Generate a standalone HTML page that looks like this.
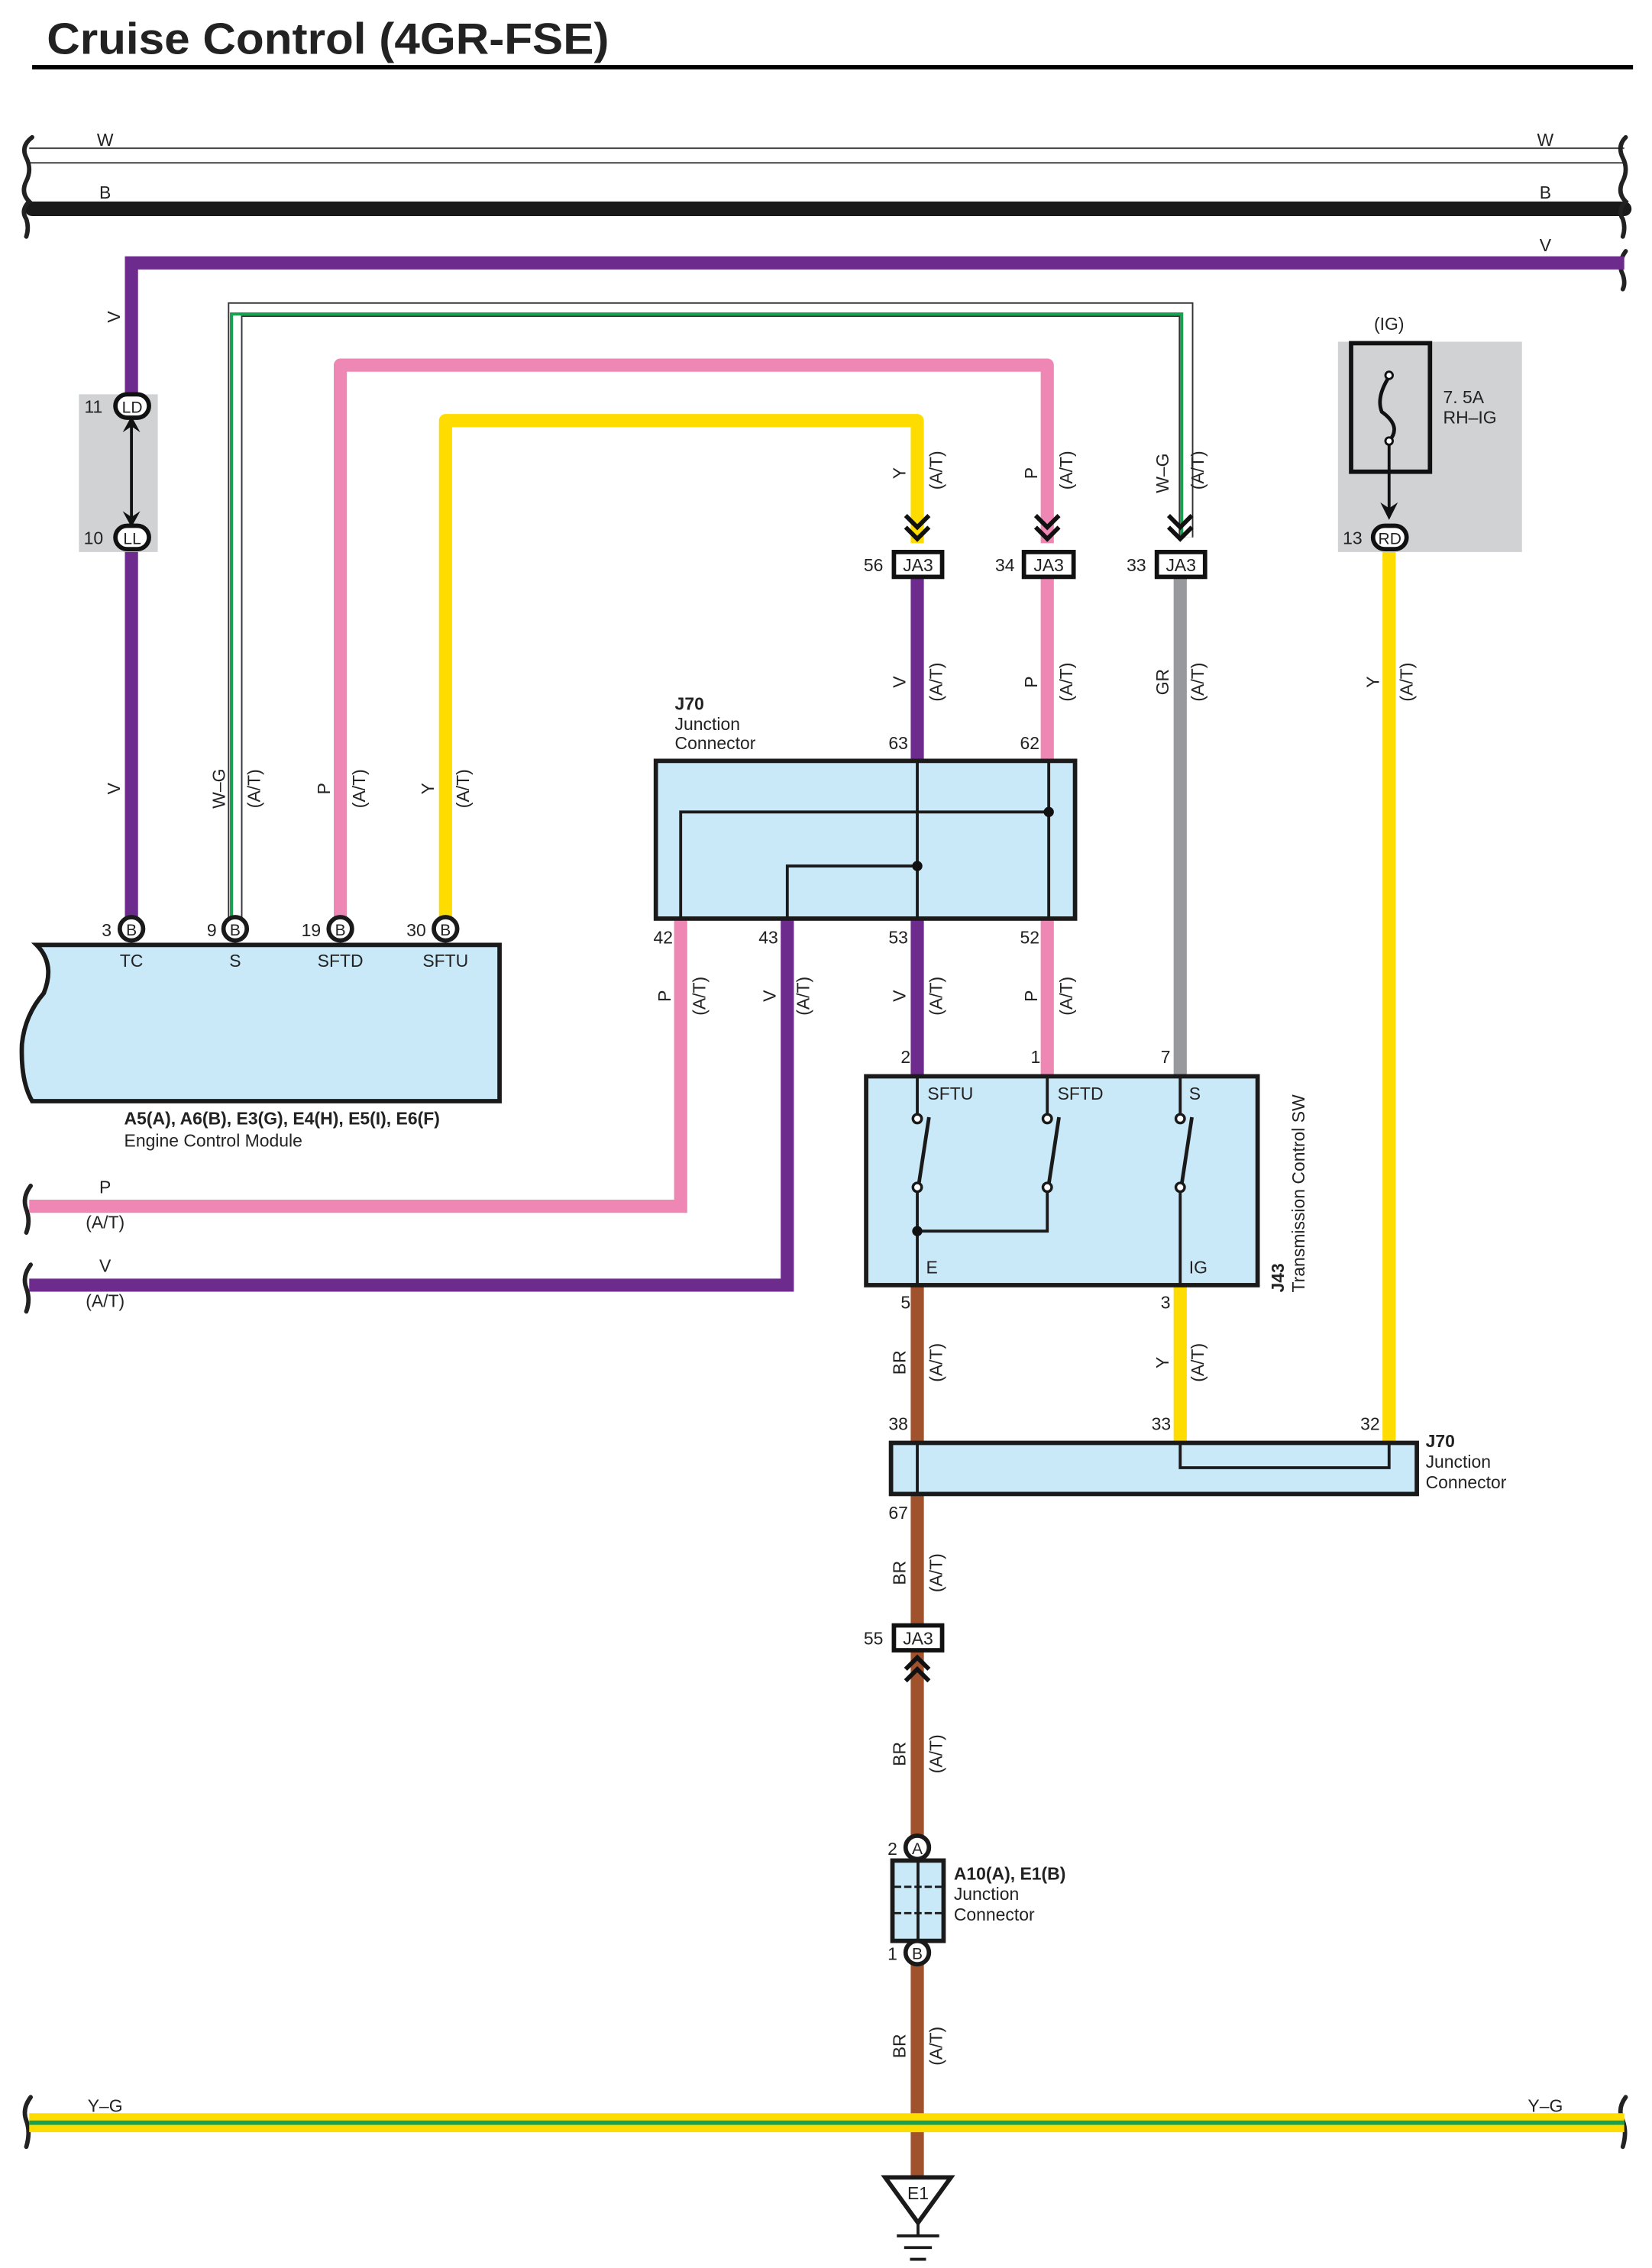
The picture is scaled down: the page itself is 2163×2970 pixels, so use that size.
<!DOCTYPE html>
<html><head><meta charset="utf-8"><style>
html,body{margin:0;padding:0;background:#fff}
svg{display:block}
text{font-family:"Liberation Sans",sans-serif;fill:#222}
</style></head><body>
<svg width="2163" height="2970" viewBox="0 0 1131 1553" preserveAspectRatio="none" xmlns="http://www.w3.org/2000/svg">
<rect width="1131" height="1553" fill="#fff"/>
<text x="32" y="37" font-size="30" font-weight="bold" fill="#000" textLength="385" lengthAdjust="spacingAndGlyphs">Cruise Control (4GR-FSE)</text>
<rect x="22" y="44.5" width="1096" height="3" fill="#000"/>

<line x1="20" y1="101.5" x2="1112" y2="101.5" stroke="#444" stroke-width="1"/>
<line x1="20" y1="111.5" x2="1112" y2="111.5" stroke="#444" stroke-width="1"/>
<line x1="22" y1="143" x2="1112" y2="143" stroke="#1a1a1a" stroke-width="10" stroke-linecap="round"/>
<g fill="none" stroke="#222" stroke-width="3" stroke-linecap="round">
<path d="M22,94 Q14,100 18,108 Q22,116 18,124 Q14,132 20,138 Q14,144 18,150 Q20,156 18,162"/>
<path d="M1113,94 Q1107,100 1111,108 Q1115,116 1111,124 Q1107,132 1113,138 Q1107,144 1111,150 Q1113,156 1111,162"/>
<path d="M1113,172 Q1107,180 1111,188 Q1113,194 1111,198"/>
<path d="M21,812 Q15,820 18,828 Q21,836 18,844"/>
<path d="M21,866 Q15,874 18,882 Q21,890 18,898"/>
<path d="M21,1436 Q15,1444 18,1452 Q21,1460 18,1470"/>
<path d="M1113,1436 Q1107,1444 1111,1452 Q1114,1460 1111,1470"/>
</g>

<path d="M90,637 L90,180 L1112,180" fill="none" stroke="#6d2b8e" stroke-width="9"/>
<path d="M161,630 L161,212 L812,212 L812,368" fill="none" stroke="#333" stroke-width="10"/>
<path d="M161,630 L161,212 L812,212 L812,368" fill="none" stroke="#fff" stroke-width="8"/>
<path d="M158.5,630 L158.5,215 L809,215 L809,368" fill="none" stroke="#1aa050" stroke-width="2.2"/>
<path d="M233,637 L233,250 L717,250 L717,372" fill="none" stroke="#ef87b5" stroke-width="9" stroke-linejoin="round"/>
<path d="M305,637 L305,288 L628,288 L628,372" fill="none" stroke="#ffdc00" stroke-width="9" stroke-linejoin="round"/>

<path d="M628,396 L628,521" stroke="#6d2b8e" stroke-width="9"/>
<path d="M717,396 L717,521" stroke="#ef87b5" stroke-width="9"/>
<path d="M808,396 L808,737" stroke="#97999c" stroke-width="9"/>
<path d="M951,378 L951,988" stroke="#ffdc00" stroke-width="9"/>
<path d="M466,629 L466,826 L20,826" fill="none" stroke="#ef87b5" stroke-width="9"/>
<path d="M539,629 L539,880 L20,880" fill="none" stroke="#6d2b8e" stroke-width="9"/>
<path d="M628,629 L628,737" stroke="#6d2b8e" stroke-width="9"/>
<path d="M717,629 L717,737" stroke="#ef87b5" stroke-width="9"/>
<path d="M628,880 L628,1493" stroke="#a0522d" stroke-width="9"/>
<path d="M808,880 L808,988" stroke="#ffdc00" stroke-width="9"/>

<rect x="20" y="1447" width="1092" height="13" fill="#ffdc00"/>
<rect x="20" y="1452" width="1092" height="3" fill="#1aa050"/>

<rect x="54" y="270" width="54" height="108" fill="#d1d2d4"/>
<line x1="90" y1="286" x2="90" y2="360" stroke="#111" stroke-width="2"/>
<path d="M84,296 L90,285 L96,296 L90,292Z M84,350 L90,361 L96,350 L90,354Z" fill="#111"/>
<rect x="79" y="270" width="23" height="16" rx="8" fill="#fff" stroke="#111" stroke-width="3"/>
<rect x="79" y="360" width="23" height="16" rx="8" fill="#fff" stroke="#111" stroke-width="3"/>
<text x="90.5" y="282.5" font-size="11" text-anchor="middle">LD</text>
<text x="90.5" y="372.5" font-size="11" text-anchor="middle">LL</text>
<text x="64" y="282.5" font-size="12" text-anchor="middle">11</text>
<text x="64" y="372.5" font-size="12" text-anchor="middle">10</text>

<rect x="916" y="234" width="126" height="144" fill="#d1d2d4"/>
<rect x="925" y="235" width="54" height="88" fill="none" stroke="#111" stroke-width="3"/>
<path d="M951,258 Q942,272 946,282 Q960,292 951,302" fill="none" stroke="#111" stroke-width="2.5"/>
<circle cx="951" cy="257" r="2.5" fill="#fff" stroke="#111" stroke-width="1.5"/>
<circle cx="951" cy="302" r="2.5" fill="#fff" stroke="#111" stroke-width="1.5"/>
<line x1="951" y1="305" x2="951" y2="350" stroke="#111" stroke-width="2"/>
<path d="M945,344 L951,356 L957,344 L951,348Z" fill="#111"/>
<rect x="940" y="360" width="23" height="16" rx="8" fill="#fff" stroke="#111" stroke-width="3"/>
<text x="951.5" y="372.5" font-size="11" text-anchor="middle">RD</text>
<text x="926" y="372.5" font-size="12" text-anchor="middle">13</text>
<text x="951" y="226" font-size="12" text-anchor="middle">(IG)</text>
<text x="988" y="276" font-size="12">7. 5A</text>
<text x="988" y="290" font-size="12">RH–IG</text>

<g fill="none" stroke="#111" stroke-width="3">
<path d="M620,353 L628,361 L636,353 M620,361 L628,369 L636,361"/>
<path d="M709,353 L717,361 L725,353 M709,361 L717,369 L725,361"/>
<path d="M800,353 L808,361 L816,353 M800,361 L808,369 L816,361"/>
<path d="M620,1143 L628,1135 L636,1143 M620,1151 L628,1143 L636,1151"/>
</g>
<g fill="#fff" stroke="#111" stroke-width="3">
<rect x="612" y="378" width="33" height="17"/>
<rect x="701" y="378" width="34" height="17"/>
<rect x="792" y="378" width="33" height="17"/>
<rect x="612" y="1113" width="33" height="17"/>
</g>
<g font-size="12" text-anchor="middle">
<text x="628.5" y="391">JA3</text><text x="718" y="391">JA3</text><text x="808.5" y="391">JA3</text><text x="628.5" y="1126">JA3</text>
<text x="598" y="391">56</text><text x="688" y="391">34</text><text x="778" y="391">33</text><text x="598" y="1126">55</text>
</g>

<rect x="449" y="521" width="287" height="108" fill="#c9e8f8" stroke="#1a1a1a" stroke-width="3"/>
<g fill="none" stroke="#1a1a1a" stroke-width="2">
<path d="M628,521 L628,629 M718,521 L718,629 M466,629 L466,556 L718,556 M539,629 L539,593 L628,593"/>
</g>
<circle cx="718" cy="556" r="3.5" fill="#111"/><circle cx="628" cy="593" r="3.5" fill="#111"/>
<text x="462" y="486" font-size="12" font-weight="bold">J70</text>
<text x="462" y="500" font-size="12">Junction</text>
<text x="462" y="513" font-size="12">Connector</text>
<g font-size="12" text-anchor="middle">
<text x="615" y="513">63</text><text x="705" y="513">62</text>
<text x="454" y="646">42</text><text x="526" y="646">43</text><text x="615" y="646">53</text><text x="705" y="646">52</text>
<text x="620" y="728">2</text><text x="709" y="728">1</text><text x="798" y="728">7</text>
<text x="620" y="896">5</text><text x="798" y="896">3</text>
<text x="615" y="979">38</text><text x="795" y="979">33</text><text x="938" y="979">32</text><text x="615" y="1040">67</text>
</g>

<rect x="593" y="737" width="268" height="143" fill="#c9e8f8" stroke="#1a1a1a" stroke-width="3"/>
<g fill="none" stroke="#1a1a1a" stroke-width="2">
<path d="M628,737 L628,763 M717,737 L717,763 M808,737 L808,763"/>
<path d="M628,816 L628,880 M717,816 L717,843 L628,843 M808,816 L808,880"/>
<path d="M636,765 L629,811 M725,765 L718,811 M816,765 L809,811" stroke-width="2.5"/>
</g>
<g fill="#fff" stroke="#1a1a1a" stroke-width="1.8">
<circle cx="628" cy="766" r="3"/><circle cx="717" cy="766" r="3"/><circle cx="808" cy="766" r="3"/>
<circle cx="628" cy="813" r="3"/><circle cx="717" cy="813" r="3"/><circle cx="808" cy="813" r="3"/>
</g>
<circle cx="628" cy="843" r="3.5" fill="#111"/>
<g font-size="12"><text x="635" y="753">SFTU</text><text x="724" y="753">SFTD</text><text x="814" y="753">S</text><text x="634" y="872">E</text><text x="814" y="872">IG</text></g>
<text transform="translate(879,885) rotate(-90)" font-size="12" font-weight="bold">J43</text>
<text transform="translate(893,885) rotate(-90)" font-size="12">Transmission Control SW</text>

<rect x="610" y="988" width="360" height="35" fill="#c9e8f8" stroke="#1a1a1a" stroke-width="3"/>
<path d="M628,988 L628,1023 M808,988 L808,1005 L951,1005 L951,988" fill="none" stroke="#1a1a1a" stroke-width="2"/>
<text x="976" y="991" font-size="12" font-weight="bold">J70</text>
<text x="976" y="1005" font-size="12">Junction</text>
<text x="976" y="1019" font-size="12">Connector</text>

<rect x="611" y="1274" width="35" height="55" fill="#c9e8f8" stroke="#1a1a1a" stroke-width="3"/>
<line x1="628.5" y1="1274" x2="628.5" y2="1329" stroke="#1a1a1a" stroke-width="2"/>
<line x1="612" y1="1292" x2="645" y2="1292" stroke="#1a1a1a" stroke-width="1.5" stroke-dasharray="5,2"/>
<line x1="612" y1="1310" x2="645" y2="1310" stroke="#1a1a1a" stroke-width="1.5" stroke-dasharray="5,2"/>
<circle cx="628" cy="1265" r="8" fill="#fff" stroke="#1a1a1a" stroke-width="3"/>
<circle cx="628" cy="1337" r="8" fill="#fff" stroke="#1a1a1a" stroke-width="3"/>
<text x="628" y="1269.5" font-size="11" text-anchor="middle">A</text>
<text x="628" y="1341.5" font-size="11" text-anchor="middle">B</text>
<text x="611" y="1270" font-size="12" text-anchor="middle">2</text>
<text x="611" y="1342" font-size="12" text-anchor="middle">1</text>
<text x="653" y="1287" font-size="12" font-weight="bold">A10(A), E1(B)</text>
<text x="653" y="1301" font-size="12">Junction</text>
<text x="653" y="1315" font-size="12">Connector</text>

<path d="M606,1491 L651,1491 L628.5,1522 Z" fill="#fff" stroke="#1a1a1a" stroke-width="3"/>
<text x="628.5" y="1506" font-size="12" text-anchor="middle">E1</text>
<g stroke="#1a1a1a" stroke-width="2">
<line x1="628.5" y1="1522" x2="628.5" y2="1531"/>
<line x1="614" y1="1531" x2="643" y2="1531"/>
<line x1="619" y1="1539" x2="638" y2="1539"/>
<line x1="623" y1="1547" x2="634" y2="1547"/>
</g>

<path d="M25,647 L342,647 L342,754 L22,754 Q14,740 15,715 Q17,695 30,680 Q38,660 25,647 Z" fill="#c9e8f8" stroke="#1a1a1a" stroke-width="3"/>
<g fill="#fff" stroke="#1a1a1a" stroke-width="3">
<circle cx="90" cy="636" r="8"/><circle cx="161" cy="636" r="8"/><circle cx="233" cy="636" r="8"/><circle cx="305" cy="636" r="8"/>
</g>
<g font-size="11" text-anchor="middle">
<text x="90" y="640.5">B</text><text x="161" y="640.5">B</text><text x="233" y="640.5">B</text><text x="305" y="640.5">B</text>
</g>
<g font-size="12" text-anchor="middle">
<text x="73" y="641">3</text><text x="145" y="641">9</text><text x="213" y="641">19</text><text x="285" y="641">30</text>
<text x="90" y="662">TC</text><text x="161" y="662">S</text><text x="233" y="662">SFTD</text><text x="305" y="662">SFTU</text>
</g>
<text x="85" y="770" font-size="12" font-weight="bold">A5(A), A6(B), E3(G), E4(H), E5(I), E6(F)</text>
<text x="85" y="785" font-size="12">Engine Control Module</text>

<g font-size="12" text-anchor="middle">
<text x="72" y="100">W</text><text x="1058" y="100">W</text>
<text x="72" y="136">B</text><text x="1058" y="136">B</text>
<text x="1058" y="172">V</text>
<text x="72" y="817">P</text><text x="72" y="841">(A/T)</text>
<text x="72" y="871">V</text><text x="72" y="895">(A/T)</text>
<text x="72" y="1446">Y–G</text><text x="1058" y="1446">Y–G</text>
</g>

<g font-size="12" text-anchor="middle">
<text transform="translate(82,217) rotate(-90)">V</text>
<text transform="translate(82,540) rotate(-90)">V</text>
<text transform="translate(154,540) rotate(-90)">W–G</text><text transform="translate(178,540) rotate(-90)">(A/T)</text>
<text transform="translate(226,540) rotate(-90)">P</text><text transform="translate(250,540) rotate(-90)">(A/T)</text>
<text transform="translate(297,540) rotate(-90)">Y</text><text transform="translate(321,540) rotate(-90)">(A/T)</text>

<text transform="translate(620,324) rotate(-90)">Y</text><text transform="translate(645,322) rotate(-90)">(A/T)</text>
<text transform="translate(710,324) rotate(-90)">P</text><text transform="translate(734,322) rotate(-90)">(A/T)</text>
<text transform="translate(800,324) rotate(-90)">W–G</text><text transform="translate(824,322) rotate(-90)">(A/T)</text>

<text transform="translate(620,467) rotate(-90)">V</text><text transform="translate(645,467) rotate(-90)">(A/T)</text>
<text transform="translate(710,467) rotate(-90)">P</text><text transform="translate(734,467) rotate(-90)">(A/T)</text>
<text transform="translate(800,467) rotate(-90)">GR</text><text transform="translate(824,467) rotate(-90)">(A/T)</text>
<text transform="translate(944,467) rotate(-90)">Y</text><text transform="translate(967,467) rotate(-90)">(A/T)</text>

<text transform="translate(459,682) rotate(-90)">P</text><text transform="translate(483,682) rotate(-90)">(A/T)</text>
<text transform="translate(531,682) rotate(-90)">V</text><text transform="translate(554,682) rotate(-90)">(A/T)</text>
<text transform="translate(620,682) rotate(-90)">V</text><text transform="translate(645,682) rotate(-90)">(A/T)</text>
<text transform="translate(710,682) rotate(-90)">P</text><text transform="translate(734,682) rotate(-90)">(A/T)</text>

<text transform="translate(620,933) rotate(-90)">BR</text><text transform="translate(645,933) rotate(-90)">(A/T)</text>
<text transform="translate(800,933) rotate(-90)">Y</text><text transform="translate(824,933) rotate(-90)">(A/T)</text>
<text transform="translate(620,1077) rotate(-90)">BR</text><text transform="translate(645,1077) rotate(-90)">(A/T)</text>
<text transform="translate(620,1201) rotate(-90)">BR</text><text transform="translate(645,1201) rotate(-90)">(A/T)</text>
<text transform="translate(620,1401) rotate(-90)">BR</text><text transform="translate(645,1401) rotate(-90)">(A/T)</text>
</g>
</svg>
</body></html>
